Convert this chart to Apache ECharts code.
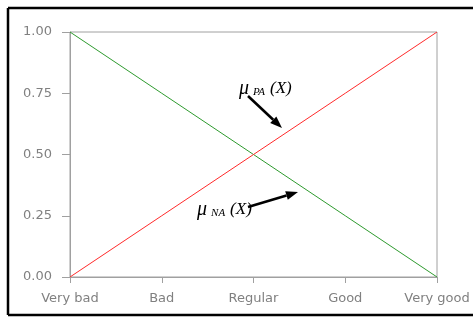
<!DOCTYPE html>
<html>
<head>
<meta charset="utf-8">
<script src="https://cdn.jsdelivr.net/npm/echarts@6/dist/echarts.min.js"></script>
<style>
    html, body { margin:0; padding:0; background:#fff; overflow:hidden; }
    #main { width:475px; height:317px; }
</style>
</head>
<body>
<div id="main"></div>
<script>
var categories = ['Very bad', 'Bad', 'Regular', 'Good', 'Very good'];
var muPA = [0, 0.25, 0.5, 0.75, 1];
var muNA = [1, 0.75, 0.5, 0.25, 0];

// arrow = line + head, pixel coords (annotation only)
function arrow(x1, y1, x2, y2) {
    var a = Math.atan2(y2 - y1, x2 - x1);
    var len = 12, w = 4.5;
    var bx = x2 - len * Math.cos(a), by = y2 - len * Math.sin(a);
    var px = -Math.sin(a) * w, py = Math.cos(a) * w;
    return [{
        type:'line',
        shape:{ x1:x1, y1:y1, x2:bx, y2:by },
        style:{ stroke:'#000', lineWidth:2.5 }
    }, {
        type:'polygon',
        shape:{ points:[[x2, y2], [bx + px, by + py], [bx - px, by - py]] },
        style:{ fill:'#000' }
    }];
}

var muRich = {
    mu:{ fontFamily:'Liberation Serif', fontStyle:'italic', fontSize:20, color:'#1a1a3a' },
    sub:{ fontFamily:'Liberation Serif', fontStyle:'italic', fontSize:11, color:'#1a1a3a', padding:[6, 5, 0, 4] },
    x:{ fontFamily:'Liberation Serif', fontStyle:'italic', fontSize:17, color:'#1a1a3a' }
};

var frame = { stroke:'#000', lineWidth:2.5 };

var option = {
    animation:false,
    grid:{
        left:70,
        right:38,
        top:32,
        bottom:40,
        show:true,
        borderColor:'#a0a0a0',
        borderWidth:1
    },
    xAxis:{
        type:'category',
        boundaryGap:false,
        data:categories,
        axisLine:{ lineStyle:{ color:'#a0a0a0' } },
        axisTick:{ length:6, lineStyle:{ color:'#a0a0a0' } },
        axisLabel:{ color:'#808080', fontFamily:'DejaVu Sans', fontSize:13, margin:15 },
        splitLine:{ show:false }
    },
    yAxis:{
        type:'value',
        min:0,
        max:1,
        interval:0.25,
        axisLine:{ show:true, lineStyle:{ color:'#a0a0a0' } },
        axisTick:{ show:true, length:8, lineStyle:{ color:'#a0a0a0' } },
        axisLabel:{
            color:'#808080', fontFamily:'DejaVu Sans', fontSize:13, margin:18,
            formatter:function (v) { return v.toFixed(2); }
        },
        splitLine:{ show:false }
    },
    series:[{
        name:'muNA',
        type:'line',
        data:muNA,
        symbol:'none',
        lineStyle:{ color:'#2e9a2e', width:1 }
    }, {
        name:'muPA',
        type:'line',
        data:muPA,
        symbol:'none',
        lineStyle:{ color:'#ff2a2a', width:1 }
    }],
    graphic:[{
        type:'text', left:239, top:79,
        style:{ text:'{mu|μ}{sub|PA}{x|(X)}', rich:muRich }
    }, {
        type:'text', left:197, top:200,
        style:{ text:'{mu|μ}{sub|NA}{x|(X)}', rich:muRich }
    }, {
        type:'line', shape:{ x1:8, y1:8, x2:473, y2:8 }, style:frame
    }, {
        type:'line', shape:{ x1:8, y1:8, x2:8, y2:315 }, style:frame
    }, {
        type:'line', shape:{ x1:8, y1:315, x2:473, y2:315 }, style:frame
    }].concat(arrow(248, 96, 282, 128), arrow(248, 207, 298, 192))
};

var chart = echarts.init(document.getElementById('main'));
chart.setOption(option);
</script>
</body>
</html>
